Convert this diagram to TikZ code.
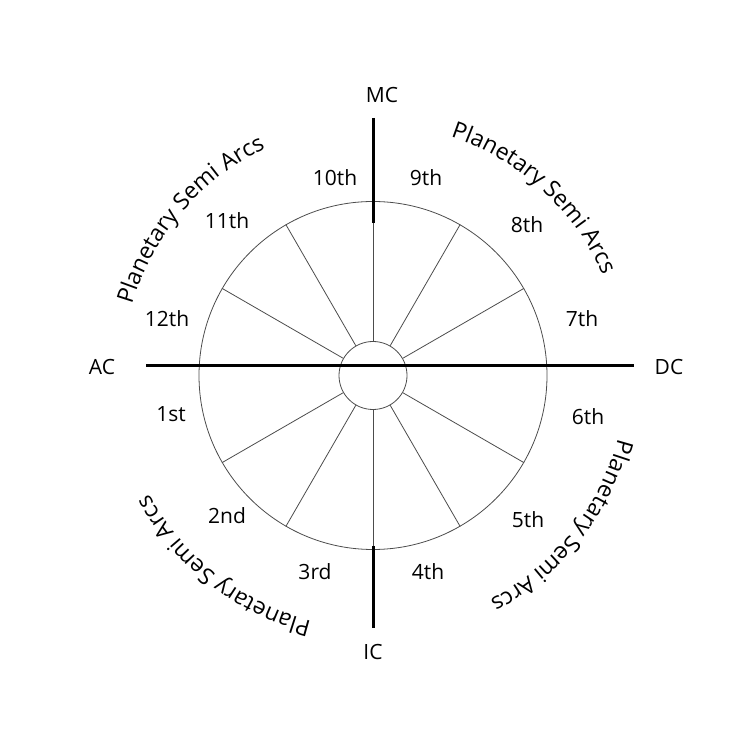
\documentclass[tikz,border=0pt]{standalone}
\usepackage{fontspec}
\setmainfont{Open Sans}
\usetikzlibrary{calc, decorations.text}

\begin{document}
\begin{tikzpicture}[
  x=1pt, y=1pt,
  every node/.style={font=\fontsize{21}{25}\selectfont},
  ring/.style={circle, draw=black!70, line width=0.8pt, inner sep=0pt},
  spoke/.style={draw=black!70, line width=0.8pt},
  angle/.style={draw=black, line width=3pt},
  semiarc/.style={decorate, decoration={text along path, text align=center,
      text={|\fontsize{23}{27}\selectfont|Planetary Semi Arcs}}}
]
\useasboundingbox (0,0) rectangle (750,750);
\coordinate (c) at (373,374.5);

% wheel and hub
\node[ring, minimum size=348pt] (wheel) at (c) {};
\node[ring, minimum size=68pt] (hub) at (c) {};

\foreach \a in {30,60,90,120,150,210,240,270,300,330}
  \draw[spoke] (hub.\a) -- (wheel.\a);

% angles
\coordinate (ac end) at (146,384);
\coordinate (dc end) at (634,384);
\coordinate (mc end) at (373,632);
\coordinate (mc in) at (373,527);
\coordinate (ic in) at (373,204);
\coordinate (ic end) at (373,122);
\draw[angle] (ac end) -- (dc end);
\draw[angle] (mc end) -- (mc in);
\draw[angle] (ic in) -- (ic end);

\node (mc) at (382,655) {MC};
\node (ic) at (373,98) {IC};
\node (ac) at (102,383) {AC};
\node (dc) at (669,383) {DC};

% houses
\node (h10) at (335,572) {10th};
\node (h9) at (426,572) {9th};
\node (h8) at (527,525) {8th};
\node (h7) at (582,431) {7th};
\node (h6) at (588,333) {6th};
\node (h5) at (528,230) {5th};
\node (h4) at (428,178) {4th};
\node (h3) at (315,178) {3rd};
\node (h2) at (227,234) {2nd};
\node (h1) at (171,336) {1st};
\node (h12) at (167,431) {12th};
\node (h11) at (227,529) {11th};

% semi arcs
\path[semiarc] ($(c)+(179.5:251)$) arc[start angle=179.5, end angle=99.5, radius=251];
\path[semiarc] ($(c)+(87.8:251)$) arc[start angle=87.8, end angle=7.8, radius=251];
\path[semiarc] ($(c)+(1.5:253)$) arc[start angle=1.5, end angle=-78.5, radius=253];
\path[semiarc] ($(c)+(-88:253)$) arc[start angle=-88, end angle=-168, radius=253];

\end{tikzpicture}
\end{document}
